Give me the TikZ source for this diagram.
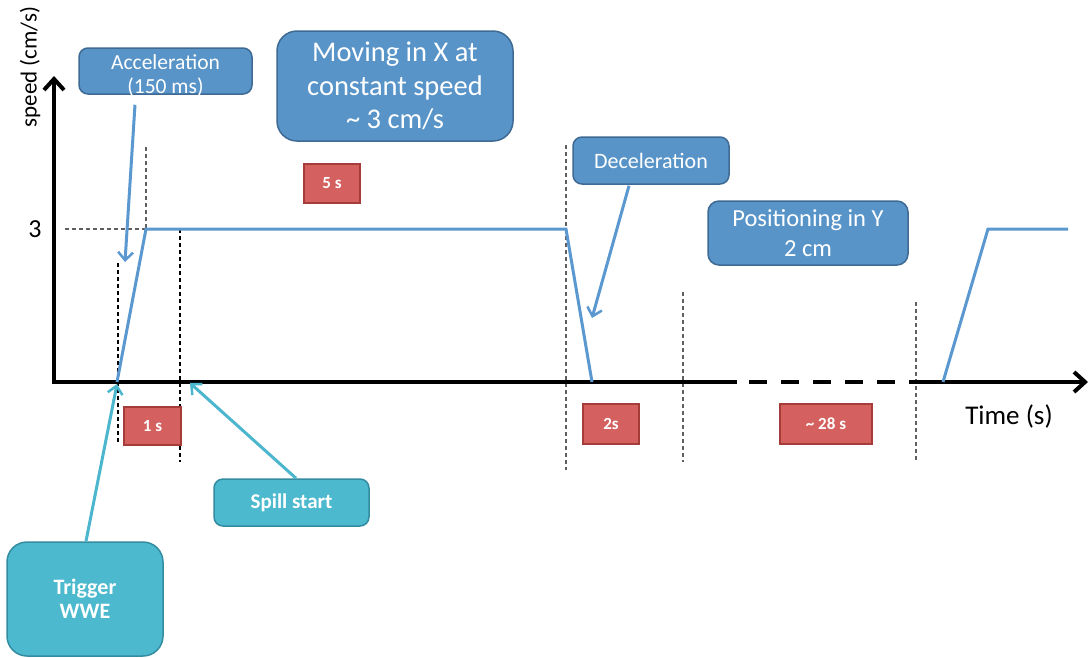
\documentclass[tikz,border=0pt]{standalone}
\usepackage{fontspec}
\setmainfont{Carlito}
\usetikzlibrary{arrows.meta}
\definecolor{bfill}{RGB}{88,148,200}
\definecolor{bdraw}{RGB}{62,106,148}
\definecolor{cfill}{RGB}{76,185,206}
\definecolor{cdraw}{RGB}{52,140,160}
\definecolor{rfill}{RGB}{212,97,95}
\definecolor{rdraw}{RGB}{165,60,58}
\definecolor{curveblue}{RGB}{91,152,208}
\definecolor{cyanline}{RGB}{75,182,205}
\definecolor{guide}{RGB}{95,95,95}
\begin{document}
\begin{tikzpicture}[x=1pt,y=-1pt,
  bluebox/.style={draw=bdraw, line width=1.5pt, fill=bfill, rounded corners=9pt, text=white, inner sep=0pt, align=center},
  boxtext/.style={text=white, inner sep=0pt, align=center},
  cyanbox/.style={draw=cdraw, line width=1.5pt, fill=cfill, rounded corners=9pt, text=white, inner sep=0pt, align=center, font=\bfseries\fontsize{21}{25}\selectfont},
  redbox/.style={draw=rdraw, line width=1.2pt, fill=rfill, text=white, inner sep=0pt, align=center, font=\bfseries\fontsize{17}{19}\selectfont},
  axis/.style={line width=4.5pt, black},
  axistip/.style={-{Straight Barb[length=11pt,width=20pt,line width=4pt]}},
  guideline/.style={dashed, dash pattern=on 4pt off 3pt, line width=1.1pt},
  speedline/.style={curveblue, line width=3pt, line join=miter},
  bluecallout/.style={curveblue, line width=3pt, -{Straight Barb[length=8pt,width=15pt,line width=2.5pt]}},
  cyancallout/.style={cyanline, line width=3pt, -{Straight Barb[length=8pt,width=15pt,line width=2.5pt]}},
  lbl/.style={inner sep=0pt, text=black}
]
\useasboundingbox (0,0) rectangle (1090,657);

% guide lines
\draw[guideline, guide] (65,229) -- (146,229);
\draw[guideline, guide] (146,147) -- (146,229);
\draw[guideline, black] (118,263) -- (118,443);
\draw[guideline, black] (180,229) -- (180,462);
\draw[guideline, guide] (566,145) -- (566,470);
\draw[guideline, guide] (683,292) -- (683,462);
\draw[guideline, guide] (916,302) -- (916,462);

% axes
\coordinate (origin) at (54,382);
\coordinate (ytop) at (54,76);
\coordinate (xsolidend) at (737,382);
\coordinate (xdashstart) at (749,382);
\coordinate (xdashend) at (913,382);
\coordinate (xend) at (1088,382);
\draw[axis, axistip] ([yshift=-2.2pt]origin) -- (ytop);
\draw[axis] ([xshift=-2.2pt]origin) -- (xsolidend);
\draw[axis, dash pattern=on 18pt off 14pt] (xdashstart) -- (xdashend);
\draw[axis, axistip] (xdashend) -- (xend);

% speed profile
\draw[speedline] (117,382) -- (146,229) -- (566,229) -- (592,382);
\draw[speedline] (943,382) -- (988,229) -- (1068,229);

% axis labels
\node[lbl, rotate=90, font=\fontsize{23}{26}\selectfont] (ylabel) at (30,67) {speed (cm/s)};
\node[lbl, font=\fontsize{27}{30}\selectfont] (xlabel) at (1009,416) {Time (s)};
\node[lbl, font=\fontsize{26}{28}\selectfont] (three) at (35,229) {3};

% blue boxes
\node[bluebox, minimum width=173pt, minimum height=46pt] (acc) at (165.5,71) {};
\node[boxtext, font=\fontsize{21.5}{24}\selectfont] (acctext) at ([yshift=-5pt]acc.center) {Acceleration\\(150 ms)};
\node[bluebox, rounded corners=20pt, minimum width=236pt, minimum height=110pt, font=\fontsize{28.5}{33.5}\selectfont] (moving) at (395,86) {Moving in X at\\constant speed\\\textasciitilde{} 3 cm/s};
\node[bluebox, minimum width=156pt, minimum height=47pt, font=\fontsize{22}{24}\selectfont] (dec) at (651,160.5) {Deceleration};
\node[bluebox, rounded corners=11pt, minimum width=200pt, minimum height=64pt, font=\fontsize{24.5}{30}\selectfont] (pos) at (808,233) {Positioning in Y\\2 cm};

% cyan boxes
\node[cyanbox, minimum width=155pt, minimum height=47pt] (spill) at (291.5,502.5) {Spill start};
\node[cyanbox, rounded corners=20pt, minimum width=156pt, minimum height=114pt, font=\bfseries\fontsize{22}{24.5}\selectfont] (trig) at (85,599) {Trigger\\WWE};

% red boxes
\node[redbox, minimum width=57pt, minimum height=38pt] (t1) at (152.5,426) {1 s};
\node[redbox, minimum width=56pt, minimum height=39pt] (t5) at (332,183.5) {5 s};
\node[redbox, minimum width=56pt, minimum height=40pt] (t2) at (611,424) {2s};
\node[redbox, minimum width=92pt, minimum height=40pt] (t28) at (826,424) {\textasciitilde{} 28 s};

% callouts
\coordinate (acctip) at (125,262);
\coordinate (dectip) at (592,318);
\coordinate (trigtip) at (117,384);
\coordinate (spilltip) at (190,383);
\draw[bluecallout] ([xshift=-30.5pt,yshift=-10pt]acc.south) -- (acctip);
\draw[bluecallout] ([xshift=-22pt,yshift=-1pt]dec.south) -- (dectip);
\draw[cyancallout] ([xshift=1pt]trig.north) -- (trigtip);
\draw[cyancallout] ([xshift=4.5pt]spill.north) -- (spilltip);
\end{tikzpicture}
\end{document}
